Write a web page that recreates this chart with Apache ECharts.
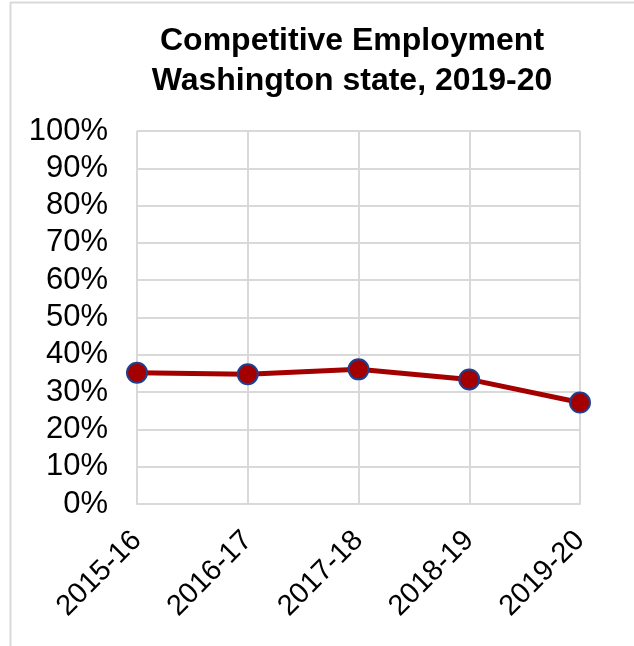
<!DOCTYPE html>
<html>
<head>
<meta charset="utf-8">
<script src="https://cdn.jsdelivr.net/npm/echarts@6/dist/echarts.min.js"></script>
<style>
  html, body { margin: 0; padding: 0; background: #fff; }
  #chart { width: 634px; height: 646px; }
</style>
</head>
<body>
<div id="chart"></div>
<script>
// School years on the x axis
const years = ['2015-16', '2016-17', '2017-18', '2018-19', '2019-20'];
// Share of students in competitive employment (%)
const employmentRate = [35.2, 34.8, 36.1, 33.4, 27.2];
// Y axis range and step (%)
const yMin = 0;
const yMax = 100;
const yStep = 10;

const chart = echarts.init(document.getElementById('chart'), null, { renderer: 'canvas' });

const gridColor = '#d9d9d9';
const font = 'Liberation Sans, Arial, sans-serif';

chart.setOption({
  animation: false,
  backgroundColor: '#ffffff',
  title: {
    text: 'Competitive Employment\nWashington state, 2019-20',
    left: 347,
    textAlign: 'center',
    top: 16,
    textStyle: {
      fontFamily: font,
      fontWeight: 'bold',
      fontSize: 32,
      lineHeight: 40,
      color: '#000'
    }
  },
  graphic: [
    { type: 'line', shape: { x1: 10, y1: 2.5, x2: 634, y2: 2.5 }, style: { stroke: gridColor, lineWidth: 2 } },
    { type: 'line', shape: { x1: 10.5, y1: 2, x2: 10.5, y2: 646 }, style: { stroke: gridColor, lineWidth: 2 } }
  ],
  grid: {
    left: 137,
    right: 54,
    top: 131,
    bottom: 142,
    containLabel: false
  },
  xAxis: {
    type: 'category',
    data: years,
    boundaryGap: false,
    axisLine: { show: true, lineStyle: { color: gridColor, width: 2 } },
    axisTick: { show: false },
    splitLine: { show: true, lineStyle: { color: gridColor, width: 2 } },
    axisLabel: {
      rotate: 45,
      margin: 32,
      fontFamily: font,
      fontSize: 29,
      color: '#000',
      interval: 0
    }
  },
  yAxis: {
    type: 'value',
    min: yMin,
    max: yMax,
    interval: yStep,
    axisLine: { show: false },
    axisTick: { show: false },
    splitLine: { show: true, lineStyle: { color: gridColor, width: 2 } },
    axisLabel: {
      formatter: '{value}%',
      margin: 29,
      fontFamily: font,
      fontSize: 31,
      color: '#000'
    }
  },
  series: [{
    type: 'line',
    data: employmentRate,
    symbol: 'circle',
    symbolSize: 20,
    lineStyle: { color: '#a50000', width: 5 },
    itemStyle: { color: '#a50000', borderColor: '#1f3f8f', borderWidth: 2 }
  }]
});
</script>
</body>
</html>
